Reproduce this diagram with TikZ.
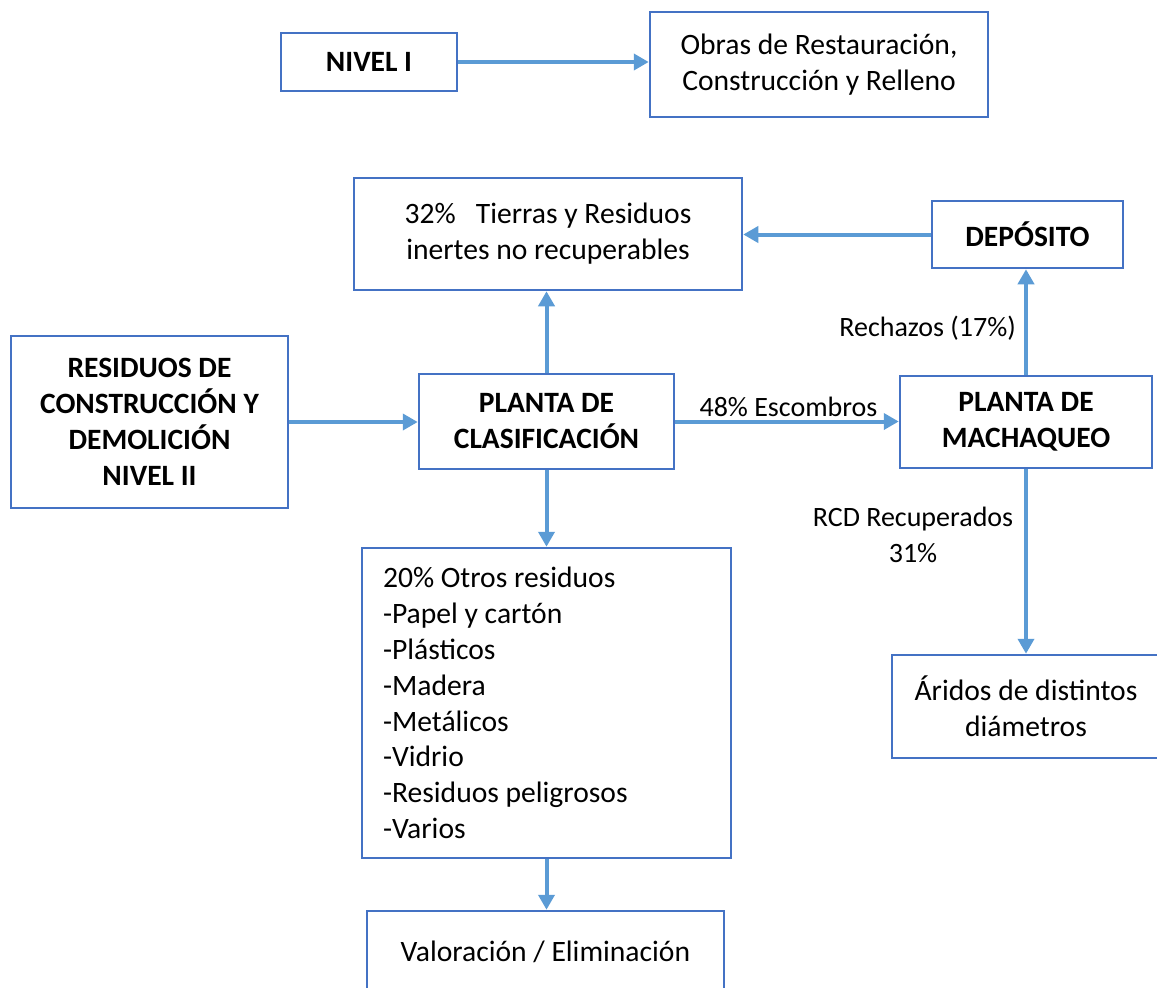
\documentclass[tikz,border=0pt]{standalone}
\usepackage{fontspec}
\setmainfont{Carlito}
\usetikzlibrary{arrows.meta}
\definecolor{boxblue}{HTML}{4472C4}
\definecolor{flowblue}{HTML}{5B9BD5}
\begin{document}
\begin{tikzpicture}[x=1pt,y=-1pt,
  font=\fontsize{29.6}{36}\selectfont,
  box/.style={draw=boxblue,line width=2.5pt,fill=white,inner sep=0pt,align=center},
  boldbox/.style={box,font=\fontsize{29.5}{36}\selectfont\bfseries},
  flow/.style={draw=flowblue,line width=4pt,-{Triangle[length=15pt,width=16pt]}},
  lbl/.style={inner sep=0pt,align=center,font=\fontsize{28}{36}\selectfont}]
\useasboundingbox (0,0) rectangle (1157,988);
\clip (0,0) rectangle (1157,988);

% upper branch: level I
\node[boldbox,minimum width=176pt,minimum height=58pt] (nivel) at (369,62) {NIVEL I};
\node[box,minimum width=338pt,minimum height=105pt] (obras) at (819,64.5)
  {Obras de Restauración,\\Construcción y Relleno};

% level II process
\node[boldbox,minimum width=277pt,minimum height=172pt] (rcd) at (149.5,422)
  {RESIDUOS DE\\CONSTRUCCIÓN Y\\DEMOLICIÓN\\NIVEL II};
\node[boldbox,minimum width=255pt,minimum height=95pt] (clasif) at (546.5,421.5)
  {PLANTA DE\\CLASIFICACIÓN};
\node[box,minimum width=388pt,minimum height=112pt] (tierras) at (548,234)
  {32\%\ \ \ Tierras y Residuos\\inertes no recuperables};
\node[boldbox,minimum width=191pt,minimum height=67pt] (deposito) at (1027.5,234.5)
  {DEPÓSITO};
\node[boldbox,minimum width=252pt,minimum height=92pt] (machaqueo) at (1026,422)
  {PLANTA DE\\MACHAQUEO};
\node[box,minimum width=369pt,minimum height=310pt,text width=327pt,align=flush left,
  font=\fontsize{29.6}{35.8}\selectfont] (otros) at (546.5,703)
  {20\% Otros residuos\\-Papel y cartón\\-Plásticos\\-Madera\\-Metálicos\\-Vidrio\\-Residuos peligrosos\\-Varios};
\node[box,minimum width=357pt,minimum height=82pt] (valor) at (545.5,952)
  {Valoración / Eliminación};
\node[box,minimum width=268pt,minimum height=103pt] (aridos) at (1026,706.5)
  {Áridos de distintos\\diámetros};

% connectors
\draw[flow] (nivel.east) -- (nivel.east -| obras.west);
\draw[flow] (rcd.east) -- (rcd.east -| clasif.west);
\draw[flow] (clasif.north) -- (clasif.north |- tierras.south);
\draw[flow] (deposito.west) -- (deposito.west -| tierras.east);
\draw[flow] (machaqueo.north) -- (machaqueo.north |- deposito.south);
\draw[flow] (clasif.east) -- (clasif.east -| machaqueo.west);
\draw[flow] (clasif.south) -- (clasif.south |- otros.north);
\draw[flow] (otros.south) -- (otros.south |- valor.north);
\draw[flow] (machaqueo.south) -- (machaqueo.south |- aridos.north);

% connector labels
\node[lbl] (escombros) at (788.5,407) {48\% Escombros};
\node[lbl,anchor=east] (rechazos) at (1016,328) {Rechazos (17\%)};
\node[lbl] (recuperados) at (913,535) {RCD Recuperados\\31\%};
\end{tikzpicture}
\end{document}
